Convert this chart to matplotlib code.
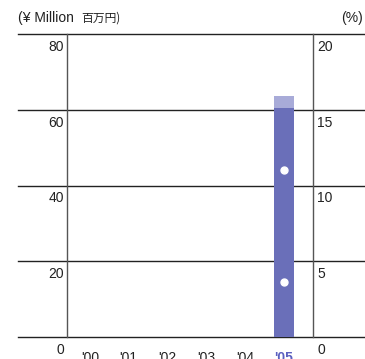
import matplotlib
matplotlib.use("Agg")
import matplotlib.pyplot as plt
import numpy as np
from matplotlib import font_manager

names = {f.name for f in font_manager.fontManager.ttflist}
base = 'Liberation Sans Narrow' if 'Liberation Sans Narrow' in names else 'Liberation Sans'
plt.rcParams['font.family'] = [base, 'Noto Sans CJK JP', 'DejaVu Sans']

years = ["'00", "'01", "'02", "'03", "'04", "'05"]
bar_main = [0, 0, 0, 0, 0, 60.5]
bar_top = [0, 0, 0, 0, 0, 3.2]
pct_a = [np.nan, np.nan, np.nan, np.nan, np.nan, 11.0]
pct_b = [np.nan, np.nan, np.nan, np.nan, np.nan, 3.6]
left_ticks = [0, 20, 40, 60, 80]
right_ticks = [0, 5, 10, 15, 20]

W, H = 365, 359
fig = plt.figure(figsize=(W / 100, H / 100), dpi=100)

def fx(px):
    return px / W

def fy(py):
    return 1 - py / H

ax_left, ax_right, ax_top, ax_bot = 67, 313, 34, 337
# background axes for long horizontal lines
bg = fig.add_axes([fx(18), fy(ax_bot), fx(W - 18), fy(ax_top) - fy(ax_bot)])
bg.set_xlim(0, 1)
bg.set_ylim(0, 80)
bg.axis('off')
for t in left_ticks:
    bg.plot([0, 1], [t, t], color='#222222', lw=1.0, clip_on=False, zorder=1)

ax = fig.add_axes([fx(ax_left), fy(ax_bot), fx(ax_right - ax_left), fy(ax_top) - fy(ax_bot)])
ax.patch.set_alpha(0)
x = np.arange(len(years))
ax.bar(x, bar_main, width=0.5, color='#6a6fb9', zorder=3)
ax.bar(x, bar_top, bottom=bar_main, width=0.5, color='#a8abd8', zorder=3)
ax.set_xlim(-0.59, 5.75)
ax.set_ylim(0, 80)
for s in ['top', 'bottom']:
    ax.spines[s].set_visible(False)
for s in ['left', 'right']:
    ax.spines[s].set_color('#555555')
    ax.spines[s].set_linewidth(1.0)
ax.set_xticks([])
ax.set_yticks([])

ax2 = ax.twinx()
ax2.set_ylim(0, 20)
ax2.axis('off')
ax2.plot(x, pct_a, 'o', color='white', ms=5, zorder=5)
ax2.plot(x, pct_b, 'o', color='white', ms=5, zorder=5)

fs = 10
px_per_unit = (ax_bot - ax_top) / 80
for t in left_ticks:
    py = ax_bot - t * px_per_unit + 13
    fig.text(fx(64), fy(py), str(t), ha='right', va='center', fontsize=fs, color='#222222')
for t in right_ticks:
    py = ax_bot - t * 4 * px_per_unit + 13
    fig.text(fx(317), fy(py), str(t), ha='left', va='center', fontsize=fs, color='#222222')

# year labels (partly cut off at the bottom edge, as in the reference)
for i, lab in enumerate(years):
    X = ax.transData.transform((i, 0))[0]
    last = i == len(years) - 1
    fig.text(X / fig.dpi / fig.get_figwidth(), fy(351), lab, ha='center', va='top',
             fontsize=fs, color='#5b60c0' if last else '#222222',
             fontweight='bold' if last else 'normal')

fig.text(fx(18), fy(18), '(¥ Million  ', ha='left', va='center', fontsize=fs, color='#222222')
fig.text(fx(81), fy(18), '百万円)', ha='left', va='center', fontsize=8.5, color='#222222',
         family=['Noto Sans CJK JP', 'DejaVu Sans'])
fig.text(fx(363), fy(18), '(%)', ha='right', va='center', fontsize=fs, color='#222222')

fig.savefig('out.png', dpi=100)
